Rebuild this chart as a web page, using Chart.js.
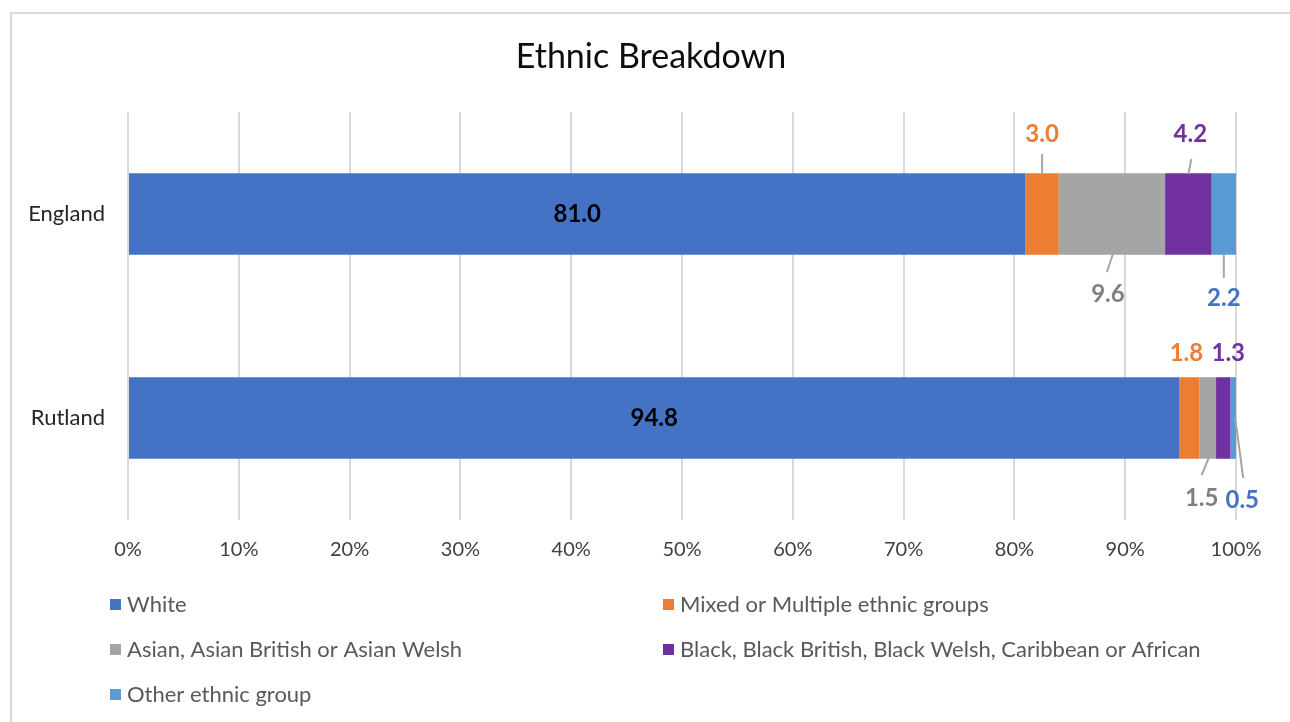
<!DOCTYPE html>
<html>
<head>
<meta charset="utf-8">
<script src="https://cdn.jsdelivr.net/npm/chart.js@4"></script>
<style>
  html, body { margin: 0; padding: 0; background: #fff; }
  #wrap { position: relative; width: 1290px; height: 722px; overflow: hidden; }
  #frame { position: absolute; left: 10px; top: 12px; width: 1300px; height: 730px; border: 2px solid #d9d9d9; box-sizing: border-box; }
  canvas { position: absolute; left: 0; top: 0; }
</style>
</head>
<body>
<div id="wrap">
  <div id="frame"></div>
  <canvas id="ethnicChart" width="1290" height="722"></canvas>
</div>
<script>
const areas = ['England', 'Rutland'];
const groups = [
  'White',
  'Mixed or Multiple ethnic groups',
  'Asian, Asian British or Asian Welsh',
  'Black, Black British, Black Welsh, Caribbean or African',
  'Other ethnic group'
];
const white = [81.0, 94.8];
const mixed = [3.0, 1.8];
const asian = [9.6, 1.5];
const black = [4.2, 1.3];
const other = [2.2, 0.5];
const xTicks = [0, 10, 20, 30, 40, 50, 60, 70, 80, 90, 100];

const barColors = ['#4472C4', '#ED7D31', '#A5A5A5', '#7030A0', '#5B9BD5'];
const labelColors = ['#000000', '#ED7D31', '#7F7F7F', '#7030A0', '#4472C4'];
const FONT = "Lato, 'Liberation Sans', sans-serif";

const series = [white, mixed, asian, black, other];
// 100% stacked: each bar is scaled to its own total
const totals = areas.map((a, i) => series.reduce((s, arr) => s + arr[i], 0));

// where each small label sits, relative to the segment centre (dx) and bar centre (dy)
const placement = [
  [{inside: true}, {inside: true}],
  [{lx: 0, ly: -80, line: [0, -40, 0, -60]}, {lx: -3, ly: -65}],
  [{lx: -4, ly: 80, line: [1, 40, -5, 58]}, {lx: -6, ly: 80, line: [1, 40, -6, 57]}],
  [{lx: 2, ly: -80, line: [0, -40, 3, -55]}, {lx: 5, ly: -65}],
  [{lx: 0, ly: 84, line: [0, 40, 0, 64]}, {lx: 9, ly: 82, line: [2, 0, 10, 60]}]
];

const labelPlugin = {
  id: 'segLabels',
  afterDatasetsDraw(chart) {
    const ctx = chart.ctx;
    ctx.save();
    ctx.font = 'bold 24px ' + FONT;
    ctx.textAlign = 'center';
    ctx.textBaseline = 'middle';
    chart.data.datasets.forEach((ds, d) => {
      const meta = chart.getDatasetMeta(d);
      meta.data.forEach((bar, i) => {
        const cx = (bar.x + bar.base) / 2;
        const cy = bar.y;
        const p = placement[d][i];
        const txt = series[d][i].toFixed(1);
        if (p.inside) {
          ctx.fillStyle = labelColors[d];
          ctx.fillText(txt, cx, cy);
          return;
        }
        if (p.line) {
          ctx.strokeStyle = '#A6A6A6';
          ctx.lineWidth = 2;
          ctx.beginPath();
          ctx.moveTo(cx + p.line[0], cy + p.line[1]);
          ctx.lineTo(cx + p.line[2], cy + p.line[3]);
          ctx.stroke();
        }
        ctx.fillStyle = labelColors[d];
        ctx.fillText(txt, cx + p.lx, cy + p.ly);
      });
    });
    ctx.restore();
  }
};

const titleLegendPlugin = {
  id: 'titleLegend',
  afterDraw(chart) {
    const ctx = chart.ctx;
    ctx.save();
    ctx.fillStyle = '#0D0D0D';
    ctx.font = '34px ' + FONT;
    ctx.textAlign = 'center';
    ctx.textBaseline = 'middle';
    ctx.fillText('Ethnic Breakdown', 651, 57);

    // legend in two columns
    const cols = [110, 663];
    const rows = [604, 649, 694];
    ctx.font = '22px ' + FONT;
    ctx.textAlign = 'left';
    chart.data.datasets.forEach((ds, d) => {
      const x = cols[d % 2];
      const y = rows[Math.floor(d / 2)];
      ctx.fillStyle = ds.backgroundColor;
      ctx.fillRect(x, y - 5, 11, 11);
      ctx.fillStyle = '#595959';
      ctx.fillText(ds.label, x + 17, y + 1);
    });
    ctx.restore();
  }
};

const data = {
  labels: areas,
  datasets: series.map((arr, d) => ({
    label: groups[d],
    data: arr.map((v, i) => v * 100 / totals[i]),
    backgroundColor: barColors[d],
    borderWidth: 0,
    categoryPercentage: 1,
    barPercentage: 0.4
  }))
};

const options = {
  indexAxis: 'y',
  responsive: false,
  animation: false,
  layout: { padding: { top: 112, right: 54, bottom: 0, left: 0 } },
  plugins: {
    legend: { display: false },
    title: { display: false },
    tooltip: { enabled: false }
  },
  scales: {
    x: {
      stacked: true,
      min: 0,
      max: 100,
      afterBuildTicks: scale => { scale.ticks = xTicks.map(v => ({ value: v })); },
      afterFit: scale => { scale.height = 202; },
      ticks: {
        callback: v => v + '%',
        color: '#404040',
        font: { size: 20, family: FONT },
        padding: 18,
        maxRotation: 0
      },
      grid: { color: '#D9D9D9', lineWidth: 2, drawTicks: false },
      border: { display: false }
    },
    y: {
      stacked: true,
      afterFit: scale => { scale.width = 128; },
      ticks: {
        color: '#262626',
        font: { size: 22, family: FONT },
        padding: 15
      },
      grid: { display: false },
      border: { display: false }
    }
  }
};

new Chart('ethnicChart', { type: 'bar', data, options, plugins: [labelPlugin, titleLegendPlugin] });
</script>
</body>
</html>
